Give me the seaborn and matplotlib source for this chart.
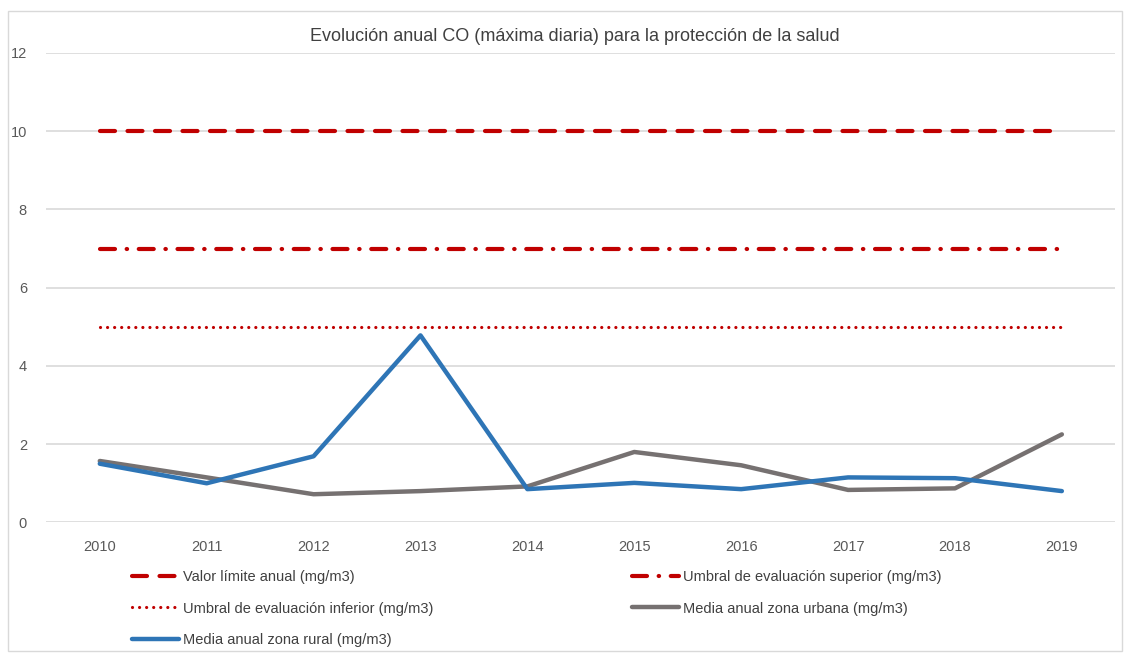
import numpy as np
import pandas as pd
import seaborn as sns
import matplotlib.pyplot as plt
from matplotlib.patches import Rectangle

# data
years = ['2010', '2011', '2012', '2013', '2014', '2015', '2016', '2017', '2018', '2019']
valor_limite = [10] * 10
umbral_superior = [7] * 10
umbral_inferior = [5] * 10
media_urbana = [1.57, 1.15, 0.72, 0.80, 0.92, 1.80, 1.46, 0.83, 0.87, 2.25]
media_rural = [1.50, 1.00, 1.69, 4.78, 0.85, 1.01, 0.85, 1.15, 1.13, 0.80]

labels = [
    'Valor límite anual (mg/m3)',
    'Umbral de evaluación superior (mg/m3)',
    'Umbral de evaluación inferior (mg/m3)',
    'Media anual zona urbana (mg/m3)',
    'Media anual zona rural (mg/m3)',
]
series = [valor_limite, umbral_superior, umbral_inferior, media_urbana, media_rural]

df = pd.concat(
    [pd.DataFrame({'year': years, 'value': v, 'serie': lab}) for v, lab in zip(series, labels)],
    ignore_index=True,
)

red = '#C00000'
styles = {
    labels[0]: dict(color=red, lw=3.0, dashes=(3.6, 3.0)),
    labels[1]: dict(color=red, lw=3.0, dashes=(3.6, 2.8, 0.1, 2.8)),
    labels[2]: dict(color=red, lw=2.3, dashes=(0.01, 2.2)),
    labels[3]: dict(color='#767171', lw=3.2, dashes=None),
    labels[4]: dict(color='#2E75B6', lw=3.2, dashes=None),
}

sns.set_style('white')
plt.rcParams['font.family'] = ['Liberation Sans', 'DejaVu Sans']

fig = plt.figure(figsize=(11.3, 6.53), dpi=100)
ax = fig.add_axes([0.041, 0.2, 0.946, 0.719])

handles = {}
for lab in labels:
    st = styles[lab]
    sns.lineplot(data=df[df['serie'] == lab], x='year', y='value', ax=ax,
                 color=st['color'], lw=st['lw'], legend=False, sort=False)
    line = ax.get_lines()[-1]
    if st['dashes'] is not None:
        line.set_dashes(st['dashes'])
    line.set_dash_capstyle('round')
    line.set_solid_capstyle('round')
    handles[lab] = line

ax.set_xlim(-0.5, 9.5)
ax.set_ylim(0, 12)
ax.set_yticks(np.arange(0, 13, 2))
ax.yaxis.grid(True, color='#D9D9D9', lw=1.2)
ax.set_axisbelow(True)
for s in ax.spines.values():
    s.set_visible(False)
ax.tick_params(axis='both', length=0, labelsize=10.5, labelcolor='#595959')
ax.tick_params(axis='x', pad=13)
ax.tick_params(axis='y', pad=14)
ax.set_xlabel('')
ax.set_ylabel('')

fig.text(0.509, 0.944, 'Evolución anual CO (máxima diaria) para la protección de la salud',
         ha='center', va='center', fontsize=13, color='#404040')

order = [labels[0], labels[2], labels[4], labels[1], labels[3]]
fig.legend([handles[l] for l in order], order, ncol=2, loc='upper left',
           bbox_to_anchor=(0.112, 0.136), frameon=False, fontsize=10.5,
           labelcolor='#404040', handlelength=3.2, handletextpad=0.3,
           columnspacing=13.6, labelspacing=1.2, borderaxespad=0)

fig.add_artist(Rectangle((0.007, 0.003), 0.986, 0.98, transform=fig.transFigure,
                         fill=False, edgecolor='#D9D9D9', lw=1))

fig.savefig('out.png', dpi=100)
